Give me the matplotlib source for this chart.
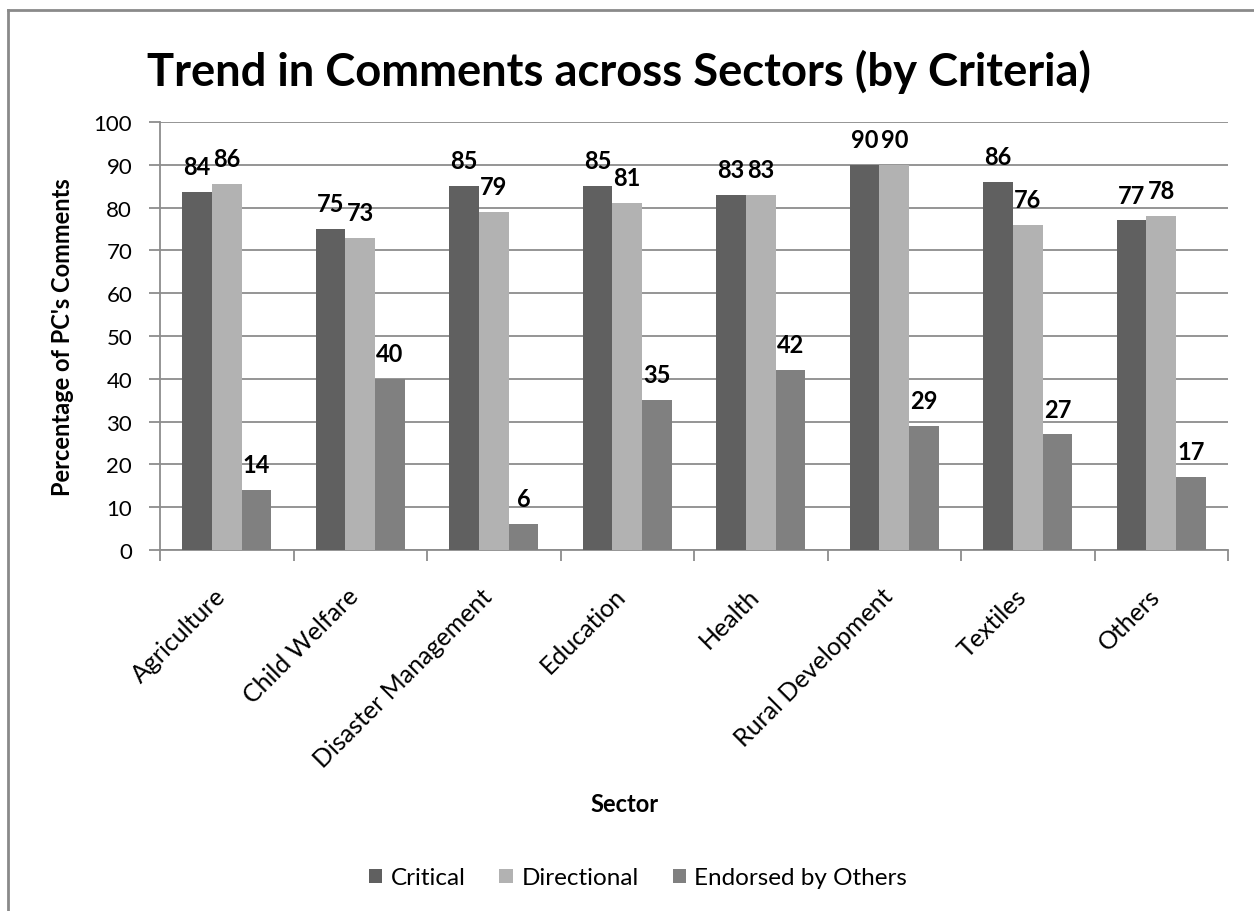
import matplotlib
matplotlib.use("Agg")
import matplotlib.pyplot as plt
from matplotlib.patches import Patch
from matplotlib.lines import Line2D
import numpy as np

sectors = ["Agriculture", "Child Welfare", "Disaster Management", "Education",
           "Health", "Rural Development", "Textiles", "Others"]
critical = [83.6, 75, 85, 85, 83, 90, 86, 77]
directional = [85.6, 73, 79, 81, 83, 90, 76, 78]
endorsed = [14, 40, 6, 35, 42, 29, 27, 17]
series_names = ["Critical", "Directional", "Endorsed by Others"]
yticks = list(range(0, 101, 10))

colors = ["#606060", "#b2b2b2", "#808080"]
grid_col = "#8c8c8c"
font = ["Lato", "DejaVu Sans"]

fig = plt.figure(figsize=(12.54, 9.12), dpi=100)
ax = fig.add_axes([160 / 1254, 1 - 551 / 912, (1228 - 160) / 1254, (551 - 123) / 912])

x = np.arange(len(sectors))
w = 0.222
for k, vals in enumerate([critical, directional, endorsed]):
    pos = x + (k - 1) * w
    ax.bar(pos, vals, width=w, color=colors[k], linewidth=0, zorder=3)
    for px, v in zip(pos, vals):
        ax.annotate(f"{v:.0f}", (px, v), xytext=(0, 10), textcoords="offset points",
                    ha="center", va="bottom", fontsize=17, fontweight="bold",
                    family=font, color="#000000", zorder=4)

ax.set_xlim(-0.5, len(sectors) - 0.5)
ax.set_ylim(0, 100)
ax.set_yticks(yticks)
ax.set_yticklabels([str(t) for t in yticks], family=font, fontsize=16)
ax.yaxis.grid(True, color=grid_col, linewidth=1.3, zorder=0)
ax.tick_params(axis="y", length=8, width=1.3, color=grid_col, pad=12)

# category names under the centres, tick marks on the boundaries
ax.set_xticks(x)
ax.set_xticklabels(sectors, rotation=45, ha="right", va="baseline",
                   rotation_mode="anchor", family=font, fontsize=18)
ax.tick_params(axis="x", which="major", length=0, pad=34)
ax.set_xticks(np.arange(len(sectors) + 1) - 0.5, minor=True)
ax.tick_params(axis="x", which="minor", length=8, width=1.3, color=grid_col)

for s in ["top", "right"]:
    ax.spines[s].set_visible(False)
for s in ["left", "bottom"]:
    ax.spines[s].set_color(grid_col)
    ax.spines[s].set_linewidth(1.3)

ax.set_ylabel("Percentage of PC's Comments", family=font, fontsize=17,
              fontweight="bold", labelpad=14)

fig.text(625 / 1254, 1 - 805 / 912, "Sector", ha="center", va="center",
         family=font, fontsize=17, fontweight="bold")
fig.text(619 / 1254, 1 - 72 / 912, "Trend in Comments across Sectors (by Criteria)",
         ha="center", va="center", family=font, fontsize=32.7, fontweight="bold")

handles = [Patch(facecolor=c, edgecolor="none") for c in colors]
fig.legend(handles, series_names, loc="center", bbox_to_anchor=(638 / 1254, 1 - 879 / 912),
           ncol=3, frameon=False, handlelength=0.55, handleheight=0.55, handletextpad=0.35,
           columnspacing=1.4, prop={"family": font, "size": 17.5})

# chart frame (only top and left edges fall inside the image)
fig.add_artist(Line2D([8 / 1254, 1], [1 - 11 / 912, 1 - 11 / 912], transform=fig.transFigure,
                      color="#8a8a8a", linewidth=2))
fig.add_artist(Line2D([8 / 1254, 8 / 1254], [0, 1 - 11 / 912], transform=fig.transFigure,
                      color="#8a8a8a", linewidth=2))

fig.savefig("out.png", dpi=100)
